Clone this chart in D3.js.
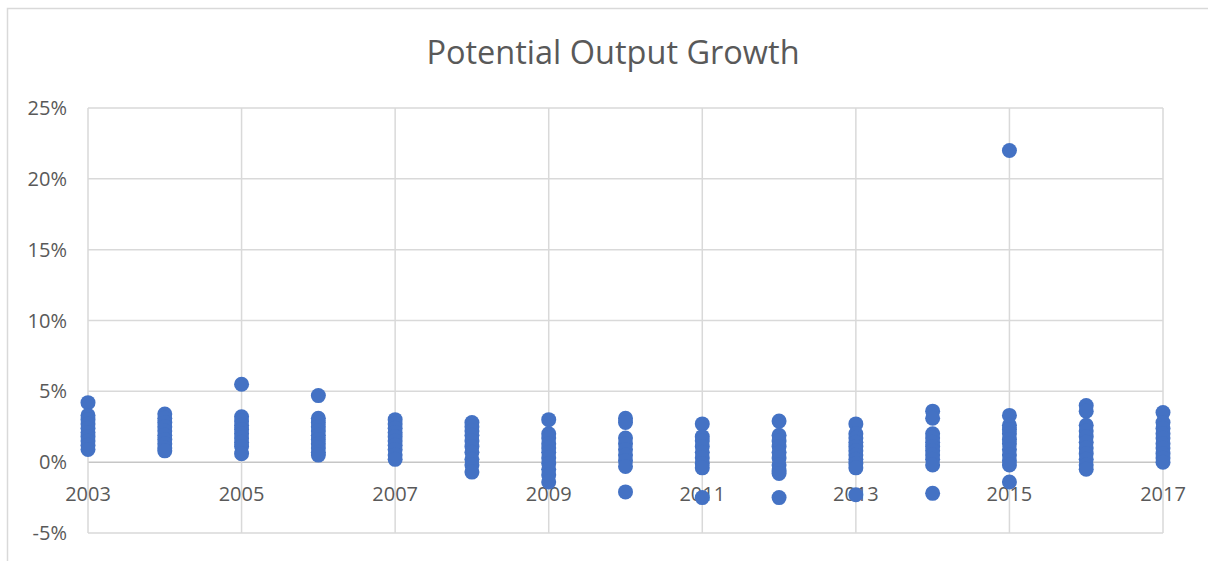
<!DOCTYPE html>
<html>
<head>
<meta charset="utf-8">
<script src="https://cdn.jsdelivr.net/npm/d3@7"></script>
<style>
  body { margin: 0; background: #fff; }
  text { font-family: "Open Sans", sans-serif; fill: #595959; }
</style>
</head>
<body>
<div id="chart"></div>
<script>
// chart data
var years = [2003, 2004, 2005, 2006, 2007, 2008, 2009, 2010, 2011, 2012, 2013, 2014, 2015, 2016, 2017];
var growth = [
  [4.2, 3.3, 3.0, 2.7, 2.4, 2.1, 1.8, 1.5, 1.2, 0.9],
  [3.4, 3.1, 2.8, 2.5, 2.2, 1.9, 1.6, 1.3, 1.0, 0.8],
  [5.5, 3.2, 2.9, 2.6, 2.3, 2.0, 1.7, 1.4, 1.1, 0.6],
  [4.7, 3.1, 2.8, 2.5, 2.2, 1.9, 1.6, 1.3, 1.0, 0.7, 0.5],
  [3.0, 2.7, 2.4, 2.1, 1.8, 1.5, 1.2, 0.9, 0.5, 0.2],
  [2.8, 2.5, 2.2, 1.9, 1.5, 1.1, 0.7, 0.2, -0.2, -0.7],
  [3.0, 2.0, 1.7, 1.3, 1.0, 0.7, 0.3, -0.1, -0.5, -0.9, -1.4],
  [3.1, 2.8, 1.7, 1.3, 0.9, 0.5, 0.1, -0.3, -2.1],
  [2.7, 1.8, 1.5, 1.1, 0.7, 0.3, -0.1, -0.4, -2.5],
  [2.9, 1.9, 1.5, 1.1, 0.7, 0.3, -0.2, -0.6, -0.8, -2.5],
  [2.7, 2.0, 1.7, 1.4, 1.1, 0.8, 0.5, 0.2, -0.1, -0.4, -2.3],
  [3.6, 3.1, 2.0, 1.7, 1.4, 1.1, 0.8, 0.5, 0.2, -0.2, -2.2],
  [22.0, 3.3, 2.6, 2.3, 2.0, 1.6, 1.3, 0.9, 0.5, 0.1, -0.2, -1.4],
  [4.0, 3.6, 2.6, 2.2, 1.8, 1.4, 1.0, 0.6, 0.2, -0.2, -0.5],
  [3.5, 2.8, 2.4, 2.0, 1.7, 1.3, 1.0, 0.6, 0.3, 0.0]
];
var yTicks = [-5, 0, 5, 10, 15, 20, 25];
var xTicks = [2003, 2005, 2007, 2009, 2011, 2013, 2015, 2017];
var title = "Potential Output Growth";

(function () {
  var w = 1208, h = 561;
  var plotLeft = 88, plotRight = 1163, plotTop = 108, plotBottom = 533;

  var svg = d3.select("#chart").append("svg")
      .attr("width", w)
      .attr("height", h);

  // chart frame (runs off the right and bottom edge)
  svg.append("rect")
      .attr("x", 7.5).attr("y", 8.5)
      .attr("width", w + 20).attr("height", h + 20)
      .attr("fill", "none")
      .attr("stroke", "#d9d9d9")
      .attr("stroke-width", 1.5);

  var x = d3.scaleLinear().domain([2003, 2017]).range([plotLeft, plotRight]);
  var y = d3.scaleLinear().domain([-5, 25]).range([plotBottom, plotTop]);

  // horizontal grid
  svg.append("g").selectAll("line")
      .data(yTicks)
      .enter().append("line")
      .attr("x1", plotLeft).attr("x2", plotRight)
      .attr("y1", function (d) { return y(d); })
      .attr("y2", function (d) { return y(d); })
      .attr("stroke", function (d) { return d == 0 ? "#c6c6c6" : "#d9d9d9"; })
      .attr("stroke-width", 1.5);

  // vertical grid
  svg.append("g").selectAll("line")
      .data(xTicks)
      .enter().append("line")
      .attr("x1", function (d) { return x(d); })
      .attr("x2", function (d) { return x(d); })
      .attr("y1", plotTop).attr("y2", plotBottom)
      .attr("stroke", "#d9d9d9")
      .attr("stroke-width", 1.5);

  // y labels
  svg.append("g").selectAll("text")
      .data(yTicks)
      .enter().append("text")
      .attr("x", 67)
      .attr("y", function (d) { return y(d); })
      .attr("dy", "0.35em")
      .attr("text-anchor", "end")
      .style("font-size", "20px")
      .text(function (d) { return d + "%"; });

  // x labels sit under the zero line
  svg.append("g").selectAll("text")
      .data(xTicks)
      .enter().append("text")
      .attr("x", function (d) { return x(d); })
      .attr("y", y(0) + 32)
      .attr("dy", "0.35em")
      .attr("text-anchor", "middle")
      .style("font-size", "20px")
      .text(function (d) { return d; });

  // points
  var points = [];
  years.forEach(function (yr, i) {
    growth[i].forEach(function (v) {
      points.push({year: yr, value: v});
    });
  });

  svg.append("g").selectAll("circle")
      .data(points)
      .enter().append("circle")
      .attr("cx", function (d) { return x(d.year); })
      .attr("cy", function (d) { return y(d.value); })
      .attr("r", 7.5)
      .attr("fill", "#4472c4");

  svg.append("text")
      .attr("x", 613)
      .attr("y", 53)
      .attr("dy", "0.35em")
      .attr("text-anchor", "middle")
      .style("font-size", "32.5px")
      .text(title);
})();
</script>
</body>
</html>
